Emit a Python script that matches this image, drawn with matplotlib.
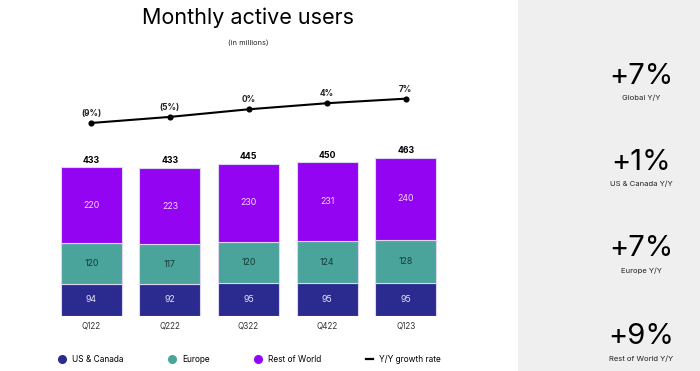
import matplotlib
matplotlib.use("Agg")
import matplotlib.pyplot as plt
from matplotlib.patches import Rectangle
from matplotlib.lines import Line2D
import numpy as np

plt.rcParams["font.family"] = ["Inter", "DejaVu Sans"]

quarters = ["Q122", "Q222", "Q322", "Q422", "Q123"]
us_canada = [94, 92, 95, 95, 95]
europe = [120, 117, 120, 124, 128]
rest_of_world = [220, 223, 230, 231, 240]
totals = [433, 433, 445, 450, 463]
growth = [-9, -5, 0, 4, 7]
growth_labels = ["(9%)", "(5%)", "0%", "4%", "7%"]

kpi_values = ["+7%", "+1%", "+7%", "+9%"]
kpi_labels = ["Global Y/Y", "US & Canada Y/Y", "Europe Y/Y", "Rest of World Y/Y"]

c_us = "#2b2a8e"
c_eu = "#4ba49b"
c_row = "#9204f2"

W, H = 700, 371
fig = plt.figure(figsize=(7, 3.71), dpi=100)
fig.patch.set_facecolor("white")

# grey side panel
fig.add_artist(Rectangle((518 / W, 0), 1 - 518 / W, 1, transform=fig.transFigure,
                         facecolor="#efefef", edgecolor="none", zorder=0))

# bars
ax = fig.add_axes([52 / W, (H - 315.7) / H, 393 / W, 164 / H])
x = np.arange(len(quarters))
bw = 0.777
edge = dict(edgecolor="#dcd6f2", linewidth=0.8)
ax.bar(x, us_canada, bw, color=c_us, **edge)
ax.bar(x, europe, bw, bottom=us_canada, color=c_eu, **edge)
bottom2 = np.array(us_canada) + np.array(europe)
ax.bar(x, rest_of_world, bw, bottom=bottom2, color=c_row, **edge)

for i in range(len(quarters)):
    ax.text(x[i], us_canada[i] / 2, str(us_canada[i]), ha="center", va="center",
            fontsize=6.3, color="#e6e4f7")
    ax.text(x[i], us_canada[i] + europe[i] / 2, str(europe[i]), ha="center", va="center",
            fontsize=6.3, color="#163c38")
    ax.text(x[i], bottom2[i] + rest_of_world[i] / 2, str(rest_of_world[i]), ha="center",
            va="center", fontsize=6.3, color="#f6d2ff")
    ax.text(x[i], totals[i] + 7, str(totals[i]), ha="center", va="bottom",
            fontsize=6.3, fontweight="bold", color="black")

ax.set_xlim(-0.5, 4.5)
ax.set_ylim(0, 480)
ax.set_xticks(x)
ax.set_xticklabels(quarters, fontsize=5.8, color="#333333")
ax.tick_params(axis="x", length=0, pad=4)
ax.set_yticks([])
for s in ax.spines.values():
    s.set_visible(False)
ax.patch.set_alpha(0)

# growth line
lx = fig.add_axes([52 / W, (H - 132.1) / H, 393 / W, 45.6 / H])
lx.plot(x, growth, color="black", linewidth=1.5, marker="o", markersize=3.4)
for i in range(len(quarters)):
    lx.text(x[i], growth[i] + 3.2, growth_labels[i], ha="center", va="bottom",
            fontsize=6, fontweight="bold", color="#222222")
lx.set_xlim(-0.5, 4.5)
lx.set_ylim(-15, 15)
lx.axis("off")

# titles
fig.text(248 / W, 1 - 18 / H, "Monthly active users", ha="center", va="center",
         fontsize=15.5, color="black")
fig.text(248 / W, 1 - 43 / H, "(in millions)", ha="center", va="center",
         fontsize=5.3, color="#222222")

# legend
handles = [
    Line2D([], [], linestyle="none", marker="o", markersize=5.5, color=c_us),
    Line2D([], [], linestyle="none", marker="o", markersize=5.5, color=c_eu),
    Line2D([], [], linestyle="none", marker="o", markersize=5.5, color=c_row),
    Line2D([], [], color="black", linewidth=1.6),
]
fig.legend(handles, ["US & Canada", "Europe", "Rest of World", "Y/Y growth rate"],
           loc="center", bbox_to_anchor=(250 / W, 1 - 359 / H), ncol=4, frameon=False,
           fontsize=6, handlelength=0.8, handletextpad=0.8, columnspacing=5.4)

# KPI panel
kpi_y = [76, 162, 249, 337]
for val, lab, yy in zip(kpi_values, kpi_labels, kpi_y):
    fig.text(641 / W, 1 - yy / H, val, ha="center", va="center", fontsize=21, color="black")
    fig.text(641 / W, 1 - (yy + 22) / H, lab, ha="center", va="center",
             fontsize=5.5, color="#222222")

fig.savefig("out.png", dpi=100)
